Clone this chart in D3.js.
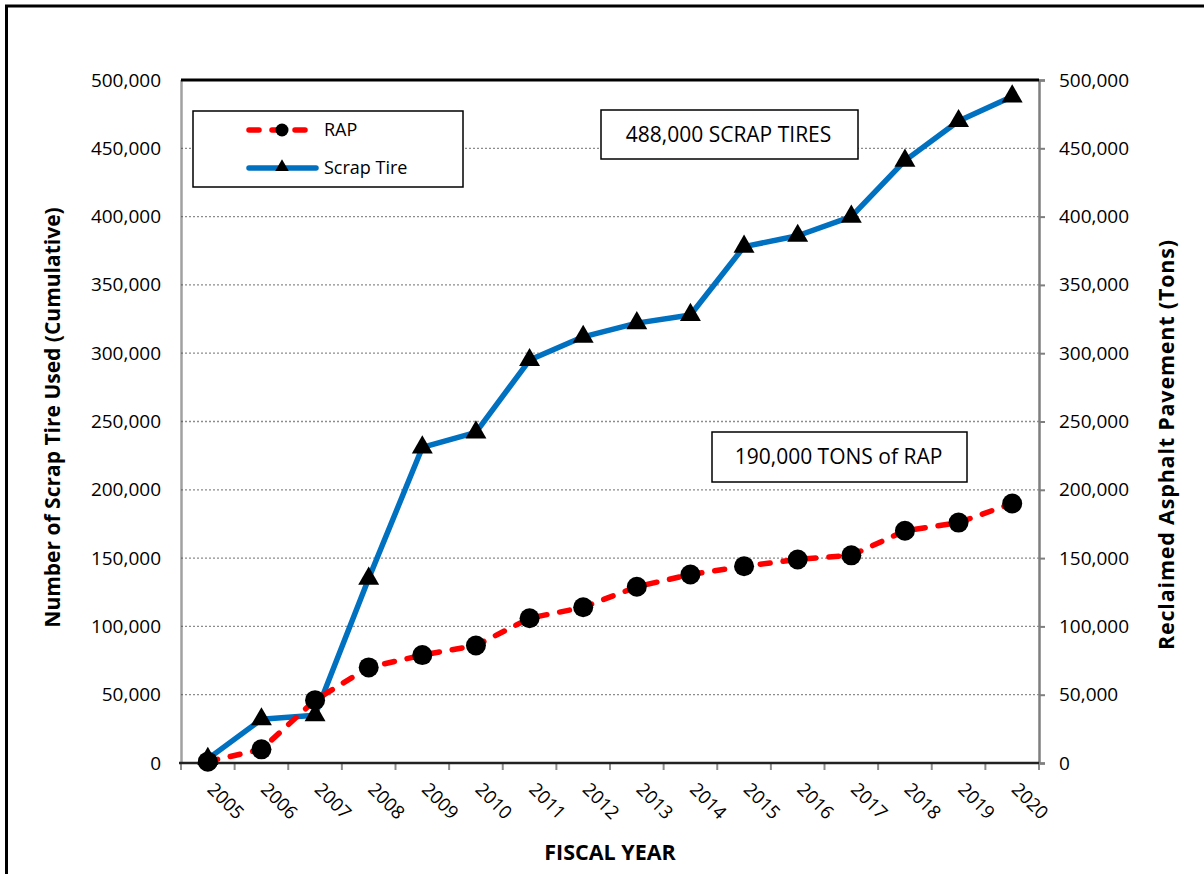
<!DOCTYPE html>
<html>
<head>
<meta charset="utf-8">
<script src="https://cdn.jsdelivr.net/npm/d3@7/dist/d3.min.js"></script>
<style>
  html, body { margin: 0; padding: 0; background: #fff; }
  svg { display: block; font-family: "Open Sans", "Noto Sans", sans-serif; }
</style>
</head>
<body>
<svg id="chart" width="1204" height="874"></svg>
<script>
// Fiscal years on the category axis
const years = ["2005","2006","2007","2008","2009","2010","2011","2012",
               "2013","2014","2015","2016","2017","2018","2019","2020"];

// Cumulative reclaimed asphalt pavement (tons)
const rapTons = [1000, 10000, 46000, 70000, 79000, 86000, 106000, 114000,
                 129000, 138000, 144000, 149000, 152000, 170000, 176000, 190000];

// Cumulative scrap tires used
const scrapTires = [3000, 32000, 35000, 135000, 231000, 242000, 295000, 312000,
                    322000, 328000, 378000, 386000, 400000, 441000, 470000, 488000];

// Value axis ticks (both sides)
const yTicks = [0, 50000, 100000, 150000, 200000, 250000, 300000, 350000, 400000, 450000, 500000];

const seriesNames = ["RAP", "Scrap Tire"];
const notes = ["488,000 SCRAP TIRES", "190,000 TONS of RAP"];

const svg = d3.select("#chart");
const plot = { left: 181, right: 1039, top: 80, bottom: 763 };

const x = d3.scaleBand().domain(years).range([plot.left, plot.right]).padding(0);
const yLeft = d3.scaleLinear().domain([0, 500000]).range([plot.bottom, plot.top]);
const yRight = d3.scaleLinear().domain([0, 500000]).range([plot.bottom, plot.top]);
const cx = d => x(d) + x.bandwidth() / 2;
const fmt = d3.format(",");

// Outer frame
svg.append("path")
  .attr("d", "M6.5,880 L6.5,6 L1210,6")
  .attr("fill", "none").attr("stroke", "#000").attr("stroke-width", 3);

// Dotted horizontal gridlines
svg.append("g")
  .selectAll("line").data(yTicks.filter(t => t > 0 && t < 500000)).join("line")
  .attr("x1", plot.left).attr("x2", plot.right)
  .attr("y1", d => yLeft(d)).attr("y2", d => yLeft(d))
  .attr("stroke", "#8c8c8c").attr("stroke-width", 1.3).attr("stroke-dasharray", "2,2");

// Left axis
const leftAxis = svg.append("g").attr("transform", `translate(${plot.left},0)`)
  .call(d3.axisLeft(yLeft).tickValues(yTicks).tickFormat(fmt).tickSize(0).tickPadding(20));
leftAxis.select(".domain").attr("stroke", "#444").attr("stroke-width", 2.5).attr("stroke-dasharray", "1,1");
leftAxis.selectAll("text").attr("font-size", 19).attr("fill", "#000").attr("font-family", "Open Sans");

// Right axis
const rightAxis = svg.append("g").attr("transform", `translate(${plot.right},0)`)
  .call(d3.axisRight(yRight).tickValues(yTicks).tickFormat(fmt).tickSize(6).tickPadding(14));
rightAxis.select(".domain").attr("stroke", "#7f7f7f").attr("stroke-width", 2.5);
rightAxis.selectAll(".tick line").attr("stroke", "#7f7f7f").attr("stroke-width", 2);
rightAxis.selectAll("text").attr("font-size", 19).attr("fill", "#000").attr("font-family", "Open Sans");

// Top border of plot area
svg.append("line")
  .attr("x1", plot.left).attr("x2", plot.right)
  .attr("y1", plot.top).attr("y2", plot.top)
  .attr("stroke", "#000").attr("stroke-width", 3);

// Bottom category axis with ticks at category boundaries
const bottom = svg.append("g").attr("transform", `translate(0,${plot.bottom})`);
bottom.selectAll("line.tk").data(years.concat(["end"])).join("line")
  .attr("class", "tk")
  .attr("x1", (d, i) => i < years.length ? x(d) : plot.right)
  .attr("x2", (d, i) => i < years.length ? x(d) : plot.right)
  .attr("y1", 0).attr("y2", 7)
  .attr("stroke", "#8c8c8c").attr("stroke-width", 2);
bottom.append("line")
  .attr("x1", plot.left - 2).attr("x2", plot.right)
  .attr("y1", 0).attr("y2", 0)
  .attr("stroke", "#222").attr("stroke-width", 2.5);
bottom.selectAll("text").data(years).join("text")
  .attr("transform", d => `translate(${cx(d) + 3},${23}) rotate(45)`)
  .attr("text-anchor", "start")
  .attr("dy", "0.35em")
  .attr("font-size", 18.5)
  .text(d => d);

// Series lines
const line = yScale => d3.line().x((d, i) => cx(years[i])).y(d => yScale(d));

svg.append("path").datum(scrapTires)
  .attr("d", line(yLeft))
  .attr("fill", "none").attr("stroke", "#0070C0").attr("stroke-width", 5.5)
  .attr("stroke-linejoin", "round");

svg.append("path").datum(rapTons)
  .attr("d", line(yRight))
  .attr("fill", "none").attr("stroke", "#FF0000").attr("stroke-width", 5.5)
  .attr("stroke-dasharray", "10,13").attr("stroke-linecap", "round");

// Markers
const tri = d3.symbol().type(d3.symbolTriangle).size(190);
svg.append("g").selectAll("path").data(scrapTires).join("path")
  .attr("transform", (d, i) => `translate(${cx(years[i])},${yLeft(d)})`)
  .attr("d", tri).attr("fill", "#000");

svg.append("g").selectAll("circle").data(rapTons).join("circle")
  .attr("cx", (d, i) => cx(years[i])).attr("cy", d => yRight(d))
  .attr("r", 10).attr("fill", "#000");

// Legend
const legend = svg.append("g");
legend.append("rect")
  .attr("x", 193).attr("y", 111).attr("width", 270).attr("height", 76)
  .attr("fill", "#fff").attr("stroke", "#000").attr("stroke-width", 1.5);
const legendRows = [
  { name: seriesNames[0], color: "#FF0000", dash: "10,13", marker: "circle", y: 130 },
  { name: seriesNames[1], color: "#0070C0", dash: null, marker: "triangle", y: 168 }
];
legendRows.forEach(r => {
  legend.append("line")
    .attr("x1", 249).attr("x2", 316).attr("y1", r.y).attr("y2", r.y)
    .attr("stroke", r.color).attr("stroke-width", 5.5).attr("stroke-linecap", "round")
    .attr("stroke-dasharray", r.dash);
  if (r.marker === "circle") {
    legend.append("circle").attr("cx", 282).attr("cy", r.y).attr("r", 6.5).attr("fill", "#000");
  } else {
    legend.append("path").attr("transform", `translate(282,${r.y - 1})`)
      .attr("d", d3.symbol().type(d3.symbolTriangle).size(80)).attr("fill", "#000");
  }
  legend.append("text").attr("x", 324).attr("y", r.y).attr("dy", "0.35em")
    .attr("font-size", 18).text(r.name);
});

// Annotation boxes
const boxes = [
  { text: notes[0], x: 601, y: 110, w: 257, h: 49 },
  { text: notes[1], x: 712, y: 432, w: 255, h: 50 }
];
boxes.forEach(b => {
  svg.append("rect").attr("x", b.x).attr("y", b.y).attr("width", b.w).attr("height", b.h)
    .attr("fill", "#fff").attr("stroke", "#000").attr("stroke-width", 1.5);
  svg.append("text").attr("x", b.x + b.w / 2 - 1).attr("y", b.y + b.h / 2).attr("dy", "0.35em")
    .attr("text-anchor", "middle").attr("font-size", 21).text(b.text);
});

// Axis titles
svg.append("text")
  .attr("transform", `translate(53,${(plot.top + plot.bottom) / 2 - 4}) rotate(-90)`)
  .attr("text-anchor", "middle").attr("dy", "0.35em")
  .attr("font-size", 21).attr("font-weight", "bold")
  .text("Number of Scrap Tire Used (Cumulative)");

svg.append("text")
  .attr("transform", `translate(1166,445) rotate(-90)`)
  .attr("text-anchor", "middle").attr("dy", "0.35em")
  .attr("font-size", 21.5).attr("font-weight", "bold")
  .attr("textLength", 410).attr("lengthAdjust", "spacing")
  .text("Reclaimed Asphalt Pavement (Tons)");

svg.append("text")
  .attr("x", 610).attr("y", 852).attr("dy", "0.35em")
  .attr("text-anchor", "middle")
  .attr("font-size", 21.5).attr("font-weight", "bold")
  .text("FISCAL YEAR");
</script>
</body>
</html>
